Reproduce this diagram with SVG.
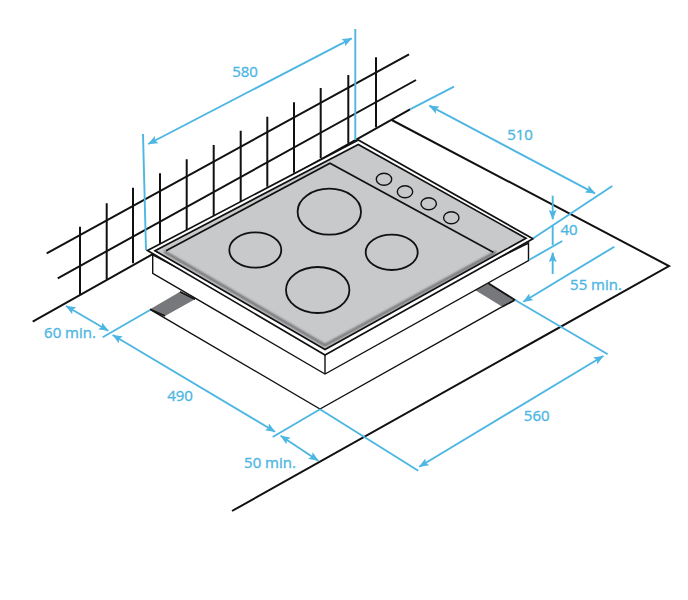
<svg xmlns="http://www.w3.org/2000/svg" width="688" height="600" viewBox="0 0 688 600">
<style>
.k{fill:none;stroke:#111;stroke-width:1.4}
.kt{fill:none;stroke:#111;stroke-width:2}
.b{fill:none;stroke:#4db6e2;stroke-width:1.9}
.t{font-family:"Open Sans","Noto Sans",sans-serif;font-size:15px;fill:#4db6e2;stroke:#4db6e2;stroke-width:.35;text-anchor:middle}
.burner{fill:none;stroke:#111;stroke-width:1.8}
.knob{fill:none;stroke:#111;stroke-width:1.4}
</style>
<defs>
<marker id="a" viewBox="0 0 10 8" refX="9.5" refY="4" markerUnits="userSpaceOnUse" markerWidth="10" markerHeight="8" orient="auto-start-reverse"><path d="M0 0L10 4L0 8L2 4Z" fill="#4db6e2"/></marker>
<filter id="soft" x="-5%" y="-5%" width="110%" height="110%"><feGaussianBlur stdDeviation="0.8"/></filter>
</defs>
<rect width="688" height="600" fill="#fff"/>
<g id="wall">
<path class="kt" d="M46.700 253.300L409 54.300M57.700 278.300L416 80M32.700 321.700L410 109.300"/>
<path class="kt" d="M80 226.700V295M106.700 203.300V279.300M133 187.700V263.300M160 173.300V245M186.700 159.300V230.700M213.700 145V216.700M240.700 130.700V201.700M267.300 116.700V186.700M294 102.300V172.700M320.700 88V158.300M348.300 75V143.300M376 57.300V127.300"/>
</g>
<g id="worktop">
<path class="kt" d="M391.700 120L669 266L232 511"/>
<path class="k" d="M150 309.300L320 409L502.300 306.700"/>
</g>
<g id="supports">
<path d="M150 309.300L180 291.700L195 299.300L165 316Z" fill="#77787b"/>
<path d="M475 290L488.300 283.300L515 300L502.300 306.700Z" fill="#77787b"/>
<path class="k" d="M150 309.300L165 316M180 291.700L195 299.300M488.300 283.300L515 300L502.300 306.700" style="stroke-width:1.700"/>
</g>
<g id="hob">
<path d="M152.700 255V273.300L325 374L528.500 260.500V243L325 345Z" fill="#fff" stroke="#111" stroke-width="1.4"/>
<path d="M325 355V374" class="k"/>
<path d="M147.500 250.500L358.300 140L533 238.800L325 355Z" fill="#fff" stroke="#111" stroke-width="1.7"/>
<path d="M155 250.700L358.300 144.500L526 238.300L325 349.500Z" fill="#c8c9cb"/>
<path d="M164 251.500L325 345.300L496 252" fill="none" stroke="#6a6b6e" stroke-width="2.600" filter="url(#soft)"/>
<path d="M155 250.700L358.300 144.500L526 238.300L325 349.500Z" fill="none" stroke="#111" stroke-width="1.700"/>
<path class="k" d="M166 250.700L330 163.300L493.300 252.300" style="stroke-width:1.700"/>
<g id="burners">
<ellipse class="burner" cx="329.300" cy="211.700" rx="31.700" ry="23"/>
<ellipse class="burner" cx="255.300" cy="250" rx="26" ry="17.700"/>
<ellipse class="burner" cx="391.700" cy="252.300" rx="26" ry="17.700"/>
<ellipse class="burner" cx="317.700" cy="290" rx="31.700" ry="23"/>
</g>
<g id="knobs">
<ellipse class="knob" cx="384" cy="179.300" rx="7.700" ry="6"/>
<ellipse class="knob" cx="405" cy="191.700" rx="7.700" ry="6"/>
<ellipse class="knob" cx="428.700" cy="203.700" rx="7.700" ry="6"/>
<ellipse class="knob" cx="451.300" cy="217.700" rx="7.700" ry="6"/>
</g>
</g>
<g id="connectors">
<path class="b" d="M143 134L146 250M355.300 29V140"/>
<path class="b" d="M148.300 144L351.700 38.300" marker-start="url(#a)" marker-end="url(#a)"/>
<path class="b" d="M410 109.300L454 86.700M533.300 238.300L612.300 186M529 260L562.300 241"/>
<path class="b" d="M429.300 105.700L595 193.300" marker-start="url(#a)" marker-end="url(#a)"/>
<path class="b" d="M552.700 195.700V219.300" marker-end="url(#a)"/>
<path class="b" d="M552.700 225V245"/>
<path class="b" d="M552.700 274V252.700" marker-end="url(#a)"/>
<path class="b" d="M614.300 246.700L523.300 301.700" marker-end="url(#a)"/>
<path class="b" d="M515 300L607.700 354.300M320 409.300L418.300 470.700M102.700 337.300L150 310M272.700 437L320 409.300"/>
<path class="b" d="M419.300 466.700L603.300 356" marker-start="url(#a)" marker-end="url(#a)"/>
<path class="b" d="M66 306L108.300 330.700" marker-start="url(#a)" marker-end="url(#a)"/>
<path class="b" d="M112.700 335L275 431.700" marker-start="url(#a)" marker-end="url(#a)"/>
<path class="b" d="M280.700 435.700L318.300 460.700" marker-start="url(#a)" marker-end="url(#a)"/>
</g>
<g id="labels">
<text class="t" x="245" y="77">580</text>
<text class="t" x="520" y="140">510</text>
<text class="t" x="569" y="234.500">40</text>
<text class="t" x="596" y="290">55 min.</text>
<text class="t" x="536.700" y="420.500">560</text>
<text class="t" x="180" y="400.500">490</text>
<text class="t" x="70" y="338">60 min.</text>
<text class="t" x="270" y="468">50 min.</text>
</g>
</svg>
